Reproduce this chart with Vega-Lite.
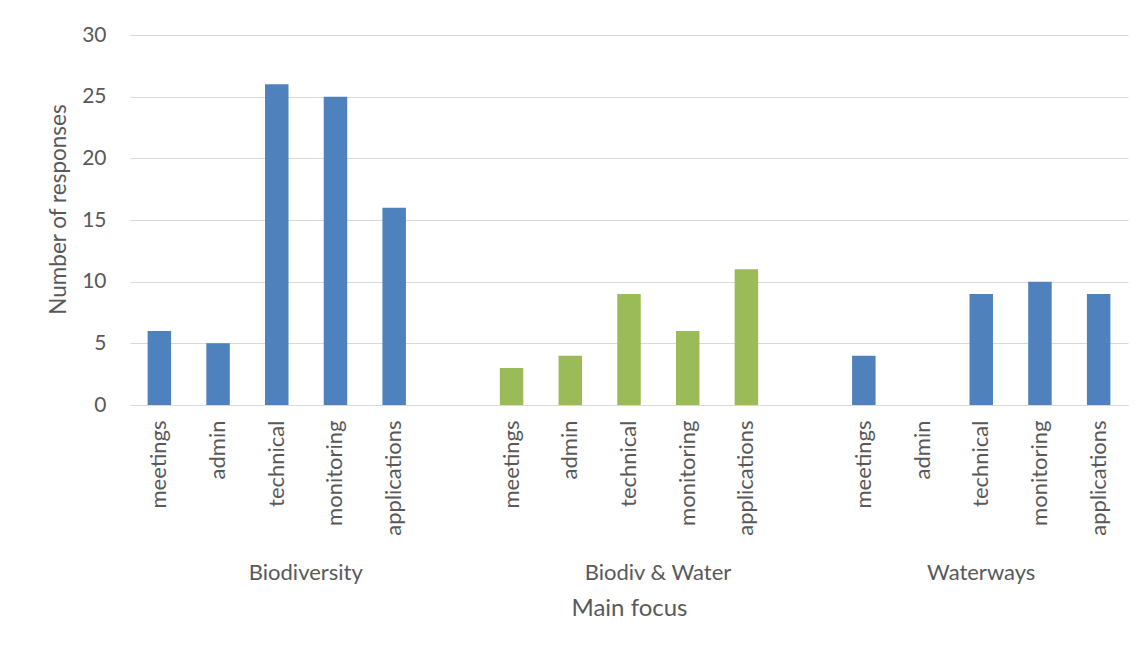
{
  "$schema": "https://vega.github.io/schema/vega-lite/v6.json",
  "width": 998,
  "height": 370,
  "autosize": {"type": "none"},
  "padding": {"left": 130, "top": 35, "right": 20, "bottom": 250},
  "background": "white",
  "config": {
    "view": {"stroke": null},
    "font": "Lato",
    "axis": {"labelColor": "#595959", "titleColor": "#595959", "titleFontWeight": "normal", "labelFont": "Lato", "titleFont": "Lato"}
  },
  "data": {
    "values": [
      {"group": "Biodiversity", "category": "meetings", "value": 6},
      {"group": "Biodiversity", "category": "admin", "value": 5},
      {"group": "Biodiversity", "category": "technical", "value": 26},
      {"group": "Biodiversity", "category": "monitoring", "value": 25},
      {"group": "Biodiversity", "category": "applications", "value": 16},
      {"group": "Biodiv & Water", "category": "meetings", "value": 3},
      {"group": "Biodiv & Water", "category": "admin", "value": 4},
      {"group": "Biodiv & Water", "category": "technical", "value": 9},
      {"group": "Biodiv & Water", "category": "monitoring", "value": 6},
      {"group": "Biodiv & Water", "category": "applications", "value": 11},
      {"group": "Waterways", "category": "meetings", "value": 4},
      {"group": "Waterways", "category": "admin", "value": 0},
      {"group": "Waterways", "category": "technical", "value": 9},
      {"group": "Waterways", "category": "monitoring", "value": 10},
      {"group": "Waterways", "category": "applications", "value": 9}
    ]
  },
  "transform": [{"calculate": "datum.group + '|' + datum.category", "as": "key"}],
  "layer": [
    {
      "mark": {"type": "bar"},
      "encoding": {
        "x": {
          "field": "key",
          "type": "nominal",
          "sort": null,
          "scale": {
            "domain": ["Biodiversity|meetings", "Biodiversity|admin", "Biodiversity|technical", "Biodiversity|monitoring", "Biodiversity|applications", "gap1",
                       "Biodiv & Water|meetings", "Biodiv & Water|admin", "Biodiv & Water|technical", "Biodiv & Water|monitoring", "Biodiv & Water|applications", "gap2",
                       "Waterways|meetings", "Waterways|admin", "Waterways|technical", "Waterways|monitoring", "Waterways|applications"],
            "paddingInner": 0.6,
            "paddingOuter": 0.3
          },
          "axis": {
            "title": null,
            "labelExpr": "indexof(datum.value, '|') > 0 ? split(datum.value, '|')[1] : ''",
            "labelAngle": -90,
            "labelFontSize": 22,
            "labelPadding": 15,
            "ticks": false,
            "domain": true,
            "domainColor": "#D9D9D9",
            "domainWidth": 1,
            "grid": false
          }
        },
        "y": {
          "field": "value",
          "type": "quantitative",
          "scale": {"domain": [0, 30]},
          "axis": {
            "title": "Number of responses",
            "titleFontSize": 22.5,
            "titlePadding": 11,
            "titleY": 174,
            "values": [0, 5, 10, 15, 20, 25, 30],
            "labelFontSize": 21,
            "labelPadding": 24,
            "ticks": false,
            "domain": false,
            "grid": true,
            "gridColor": "#D9D9D9",
            "gridWidth": 1
          }
        },
        "color": {
          "field": "group",
          "type": "nominal",
          "scale": {"domain": ["Biodiversity", "Biodiv & Water", "Waterways"], "range": ["#4F81BD", "#9BBB59", "#4F81BD"]},
          "legend": null
        }
      }
    },
    {
      "mark": {"type": "bar", "opacity": 0},
      "encoding": {
        "x": {
          "field": "key",
          "type": "nominal",
          "sort": null,
          "scale": {
            "domain": ["Biodiversity|meetings", "Biodiversity|admin", "Biodiversity|technical", "Biodiversity|monitoring", "Biodiversity|applications", "gap1",
                       "Biodiv & Water|meetings", "Biodiv & Water|admin", "Biodiv & Water|technical", "Biodiv & Water|monitoring", "Biodiv & Water|applications", "gap2",
                       "Waterways|meetings", "Waterways|admin", "Waterways|technical", "Waterways|monitoring", "Waterways|applications"],
            "paddingInner": 0.6,
            "paddingOuter": 0.3
          },
          "axis": {
            "orient": "bottom",
            "offset": 155,
            "values": ["Biodiversity|technical", "Biodiv & Water|technical", "Waterways|technical"],
            "labelExpr": "split(datum.value, '|')[0]",
            "labelAngle": 0,
            "labelFontSize": 22,
            "labelPadding": 2,
            "labelBaseline": "top",
            "labelAlign": "center",
            "labelOffset": {"condition": {"test": "datum.value === 'Waterways|technical'", "value": 0}, "value": 29},
            "title": "Main focus",
            "titleFontSize": 24,
            "titlePadding": 13,
            "ticks": false,
            "domain": false,
            "grid": false
          }
        },
        "y": {"field": "value", "type": "quantitative"}
      }
    }
  ],
  "resolve": {"axis": {"x": "independent"}}
}
